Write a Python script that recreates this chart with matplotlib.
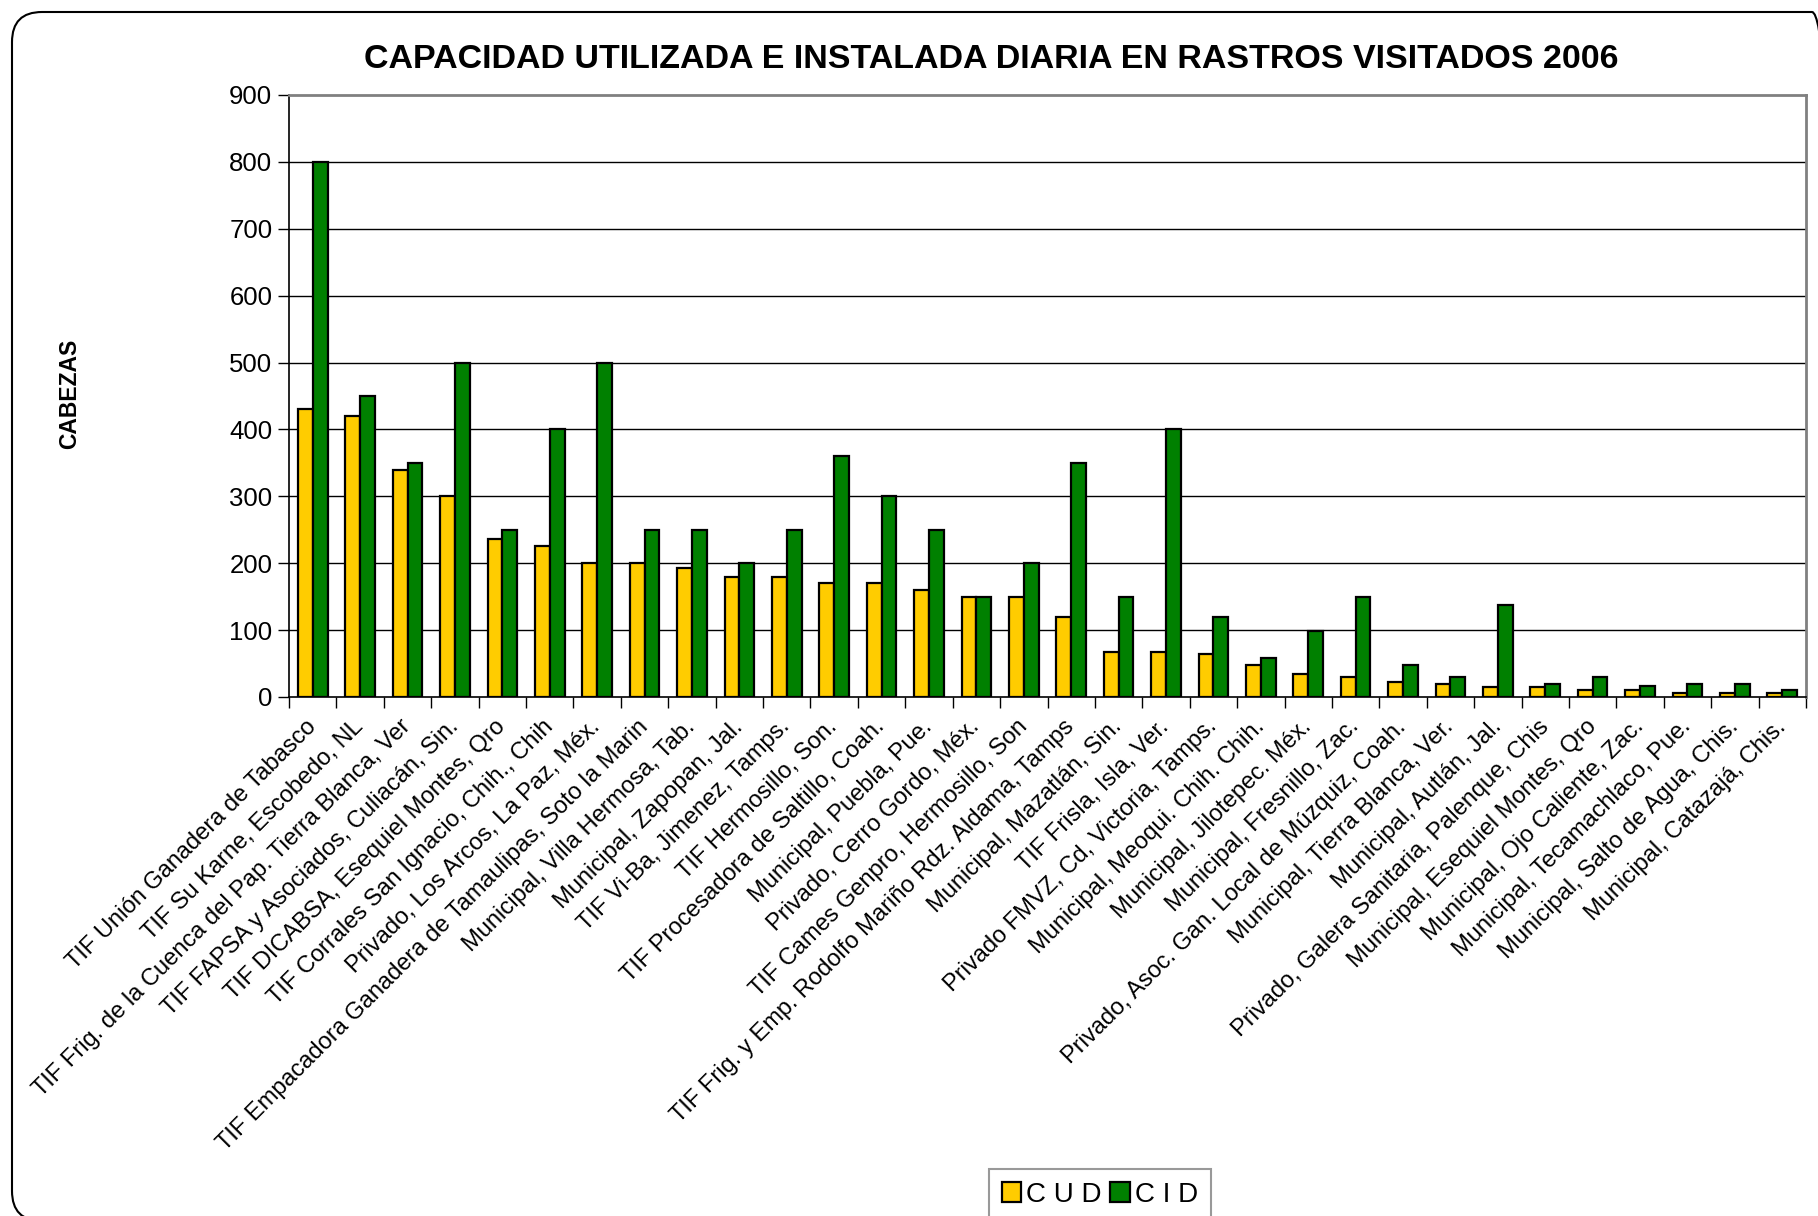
import numpy as np
import matplotlib
matplotlib.use("Agg")
import matplotlib.pyplot as plt
from matplotlib.patches import FancyBboxPatch

# === Data ===
rastros = [
    "TIF Unión Ganadera de Tabasco",
    "TIF Su Karne, Escobedo, NL",
    "TIF Frig. de la Cuenca del Pap. Tierra Blanca, Ver",
    "TIF FAPSA y Asociados, Culiacán, Sin.",
    "TIF DICABSA, Esequiel Montes, Qro",
    "TIF Corrales San Ignacio, Chih., Chih",
    "Privado, Los Arcos, La Paz, Méx.",
    "TIF Empacadora Ganadera de Tamaulipas, Soto la Marin",
    "Municipal, Villa Hermosa, Tab.",
    "Municipal, Zapopan, Jal.",
    "TIF Vi-Ba, Jimenez, Tamps.",
    "TIF Hermosillo, Son.",
    "TIF Procesadora de Saltillo, Coah.",
    "Municipal, Puebla, Pue.",
    "Privado, Cerro Gordo, Méx.",
    "TIF Cames Genpro, Hermosillo, Son",
    "TIF Frig. y Emp. Rodolfo Mariño Rdz. Aldama, Tamps",
    "Municipal, Mazatlán, Sin.",
    "TIF Frisla, Isla, Ver.",
    "Privado FMVZ, Cd, Victoria, Tamps.",
    "Municipal, Meoqui. Chih. Chih.",
    "Municipal, Jilotepec. Méx.",
    "Municipal, Fresnillo, Zac.",
    "Privado, Asoc. Gan. Local de Múzquiz, Coah.",
    "Municipal, Tierra Blanca, Ver.",
    "Municipal, Autlán, Jal.",
    "Privado, Galera Sanitaria, Palenque, Chis",
    "Municipal, Esequiel Montes, Qro",
    "Municipal, Ojo Caliente, Zac.",
    "Municipal, Tecamachlaco, Pue.",
    "Municipal, Salto de Agua, Chis.",
    "Municipal, Catazajá, Chis.",
]
cud = [430, 420, 340, 300, 236, 226, 200, 200, 193, 180, 180, 170, 170, 160, 150, 150,
       120, 68, 68, 65, 48, 35, 30, 22, 20, 15, 15, 10, 10, 6, 6, 6]
cid = [800, 450, 350, 500, 250, 400, 500, 250, 250, 200, 250, 360, 300, 250, 150, 200,
       350, 150, 400, 120, 58, 98, 150, 48, 30, 138, 20, 30, 17, 20, 20, 10]
yticks = [0, 100, 200, 300, 400, 500, 600, 700, 800, 900]

plt.rcParams['font.family'] = ['Liberation Sans', 'DejaVu Sans']

fig = plt.figure(figsize=(18.18, 12.16), dpi=100)
ax = fig.add_axes([289 / 1818, 1 - 697 / 1216, (1806 - 289) / 1818, (697 - 95) / 1216])

# outer rounded frame (right and bottom edges run off the picture)
frame = FancyBboxPatch((0.12, -0.05), 18.3, 12.09,
                       boxstyle="round,pad=0,rounding_size=0.3",
                       transform=fig.dpi_scale_trans, fill=False,
                       edgecolor='black', linewidth=1.5, zorder=0)
fig.patches.append(frame)

x = np.arange(len(rastros))
w = 0.3125
ax.bar(x - w / 2, cud, w, color='#FFCC00', edgecolor='black', linewidth=1.6,
       label='C U D', zorder=3)
ax.bar(x + w / 2, cid, w, color='#008000', edgecolor='black', linewidth=1.6,
       label='C I D', zorder=3)

ax.set_ylim(0, 900)
ax.set_xlim(-0.5, len(rastros) - 0.5)
ax.set_yticks(yticks)
ax.tick_params(axis='y', labelsize=18.5, length=8, width=1, direction='out', pad=4)
for v in yticks[1:-1]:
    ax.axhline(v, color='black', linewidth=1, zorder=1)

ax.set_xticks(x)
ax.set_xticklabels(rastros, rotation=45, ha='right', va='center',
                   rotation_mode='anchor', fontsize=17)
ax.tick_params(axis='x', which='major', length=0, pad=19)
ax.set_xticks(np.arange(-0.5, len(rastros), 1), minor=True)
ax.tick_params(axis='x', which='minor', length=8, width=1, color='black')

for s in ['top', 'right']:
    ax.spines[s].set_color('#808080')
    ax.spines[s].set_linewidth(2)
ax.spines['left'].set_color('black')
ax.spines['bottom'].set_color('black')
ax.spines['left'].set_linewidth(1.2)
ax.spines['bottom'].set_linewidth(1.2)

fig.text(991 / 1818, 1 - 59 / 1216,
         "CAPACIDAD UTILIZADA E INSTALADA DIARIA EN RASTROS VISITADOS 2006",
         ha='center', va='center', fontsize=24.5, fontweight='bold')
fig.text(70 / 1818, 1 - 394 / 1216, "CABEZAS", rotation=90,
         ha='center', va='center', fontsize=16.5, fontweight='bold')

leg = fig.legend(loc='upper left', bbox_to_anchor=(989 / 1818, 1 - 1169 / 1216),
                 ncol=2, fontsize=20, frameon=True, fancybox=False,
                 handlelength=0.7, handleheight=0.7, handletextpad=0.2,
                 columnspacing=0.3, borderpad=0.45, borderaxespad=0)
leg.get_frame().set_edgecolor('#808080')
leg.get_frame().set_linewidth(1.5)

fig.savefig("out.png", dpi=100)
